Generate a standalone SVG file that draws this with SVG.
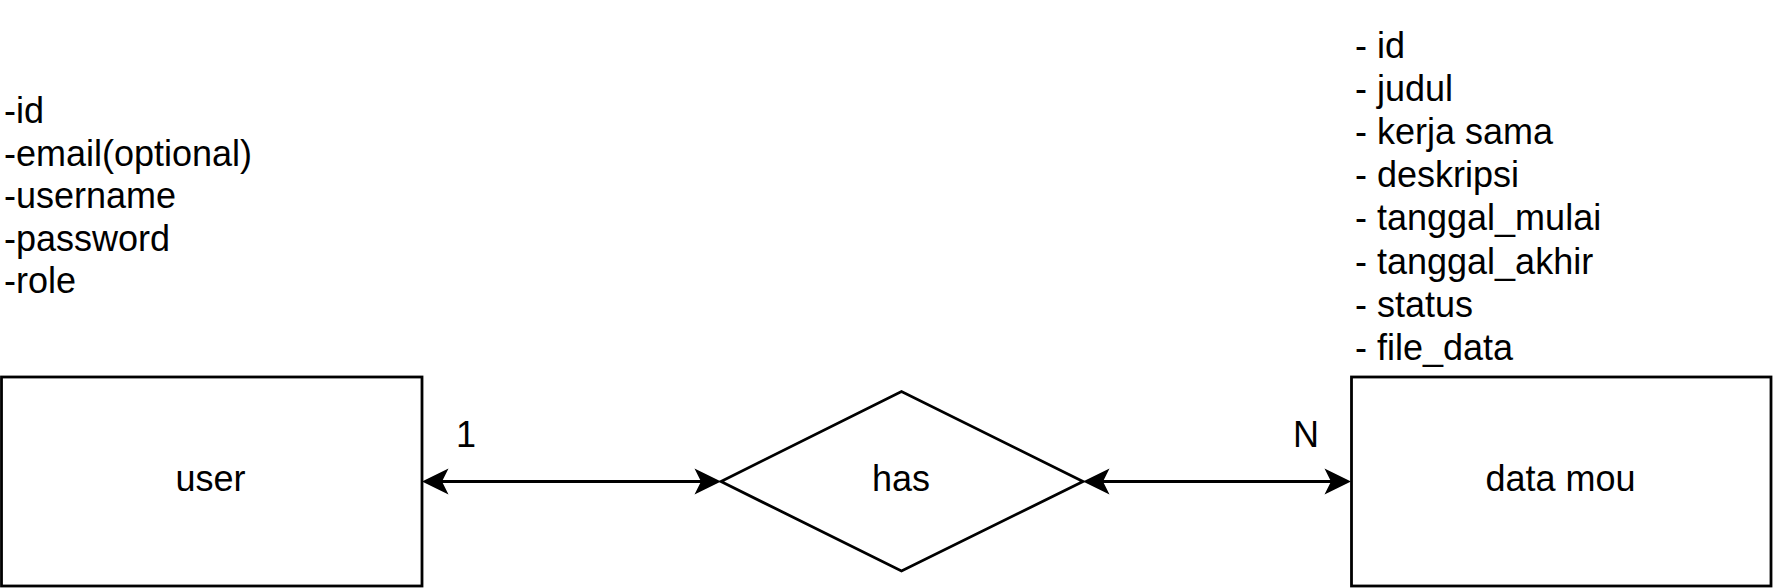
<svg xmlns="http://www.w3.org/2000/svg" width="1776" height="588" viewBox="0 0 1776 588">
<style>
text{font-family:"Liberation Sans",Arial,sans-serif;font-size:36px;fill:#000}
.c{text-anchor:middle}
.shape{fill:#fff;stroke:#000;stroke-width:2.8}
.edge{fill:none;stroke:#000;stroke-width:2.8}
</style>
<defs>
<marker id="arr" viewBox="-28 -15 30 30" refX="-20" refY="0" markerWidth="30" markerHeight="30" markerUnits="userSpaceOnUse" orient="auto-start-reverse">
<path d="M0,0 L-26.5,-13 L-20,0 L-26.5,13 Z" fill="#000"/>
</marker>
</defs>
<rect width="1776" height="588" fill="#fff"/>
<g id="user-attrs">
<text x="4"><tspan x="4" y="123">-id</tspan><tspan x="4" y="165.6">-email(optional)</tspan><tspan x="4" y="208.2">-username</tspan><tspan x="4" y="250.8">-password</tspan><tspan x="4" y="293.4">-role</tspan></text>
</g>
<g id="mou-attrs">
<text x="1355"><tspan x="1355" y="57.5">- id</tspan><tspan x="1355" y="100.7">- judul</tspan><tspan x="1355" y="143.9">- kerja sama</tspan><tspan x="1355" y="187.1">- deskripsi</tspan><tspan x="1355" y="230.3">- tanggal_mulai</tspan><tspan x="1355" y="273.5">- tanggal_akhir</tspan><tspan x="1355" y="316.7">- status</tspan><tspan x="1355" y="359.9">- file_data</tspan></text>
</g>
<g id="user">
<rect class="shape" x="1.5" y="377" width="420.5" height="209"/>
<text class="c" x="210.5" y="491">user</text>
</g>
<g id="has">
<polygon class="shape" points="721,481.5 901.5,391.5 1083,481.5 901.5,571"/>
<text class="c" x="901" y="491">has</text>
</g>
<g id="data-mou">
<rect class="shape" x="1351.5" y="377" width="419.5" height="209"/>
<text class="c" x="1560.5" y="491">data mou</text>
</g>
<g id="connectors">
<path class="edge" d="M442,481.5 L701,481.5" marker-start="url(#arr)" marker-end="url(#arr)"/>
<path class="edge" d="M1103,481.5 L1331,481.5" marker-start="url(#arr)" marker-end="url(#arr)"/>
<text class="c" x="466" y="447">1</text>
<text class="c" x="1306" y="447">N</text>
</g>
</svg>
